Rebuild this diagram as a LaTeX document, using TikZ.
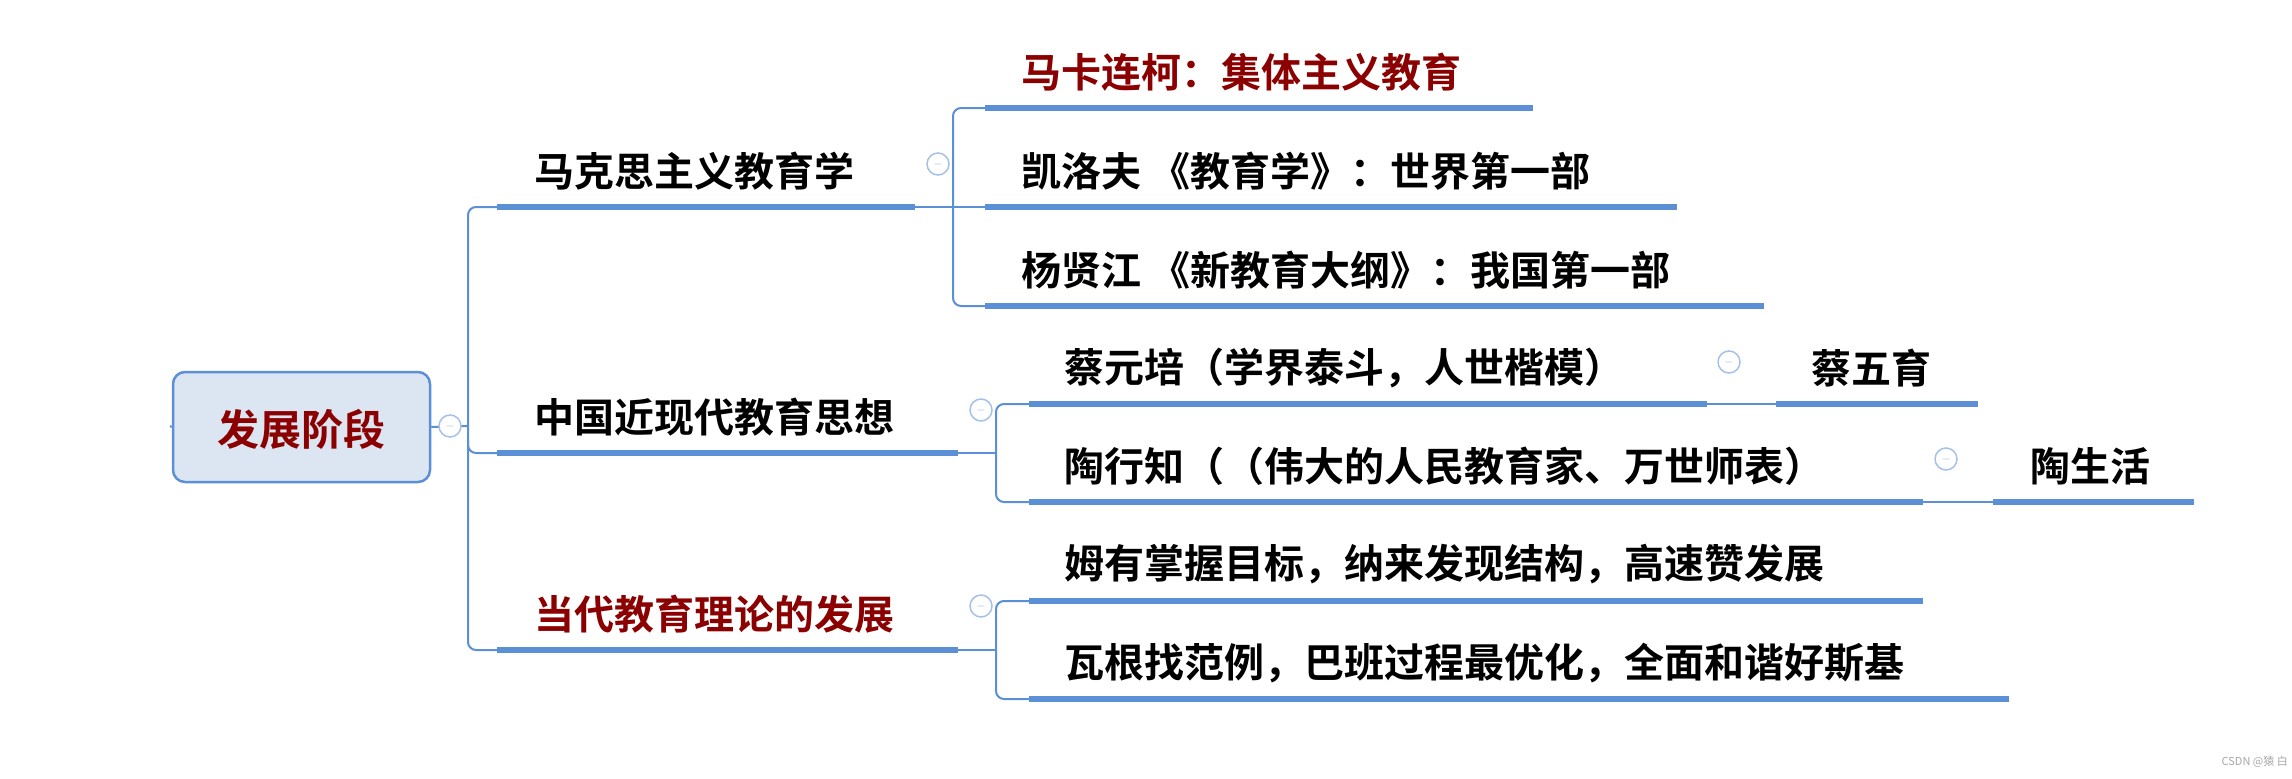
\documentclass[tikz,border=0pt]{standalone}
\usepackage{fontspec}
\setmainfont{Noto Sans CJK SC}[BoldFont={Noto Sans CJK SC Bold}]
\definecolor{lineblue}{HTML}{5B8FD6}
\definecolor{dred}{HTML}{8B0000}
\definecolor{rootfill}{HTML}{DCE6F2}
\begin{document}
\begin{tikzpicture}[x=1pt,y=-1pt,
  lbl/.style={anchor=west,inner sep=0pt,font=\fontsize{40}{40}\selectfont\bfseries},
  ul/.style={draw=lineblue,line width=5.5pt},
  thin/.style={draw=lineblue,line width=2pt,rounded corners=8pt},
  mn/.style={circle,draw=lineblue!55,line width=1.5pt,minimum size=22pt,inner sep=0pt,fill=white,font=\fontsize{13}{13}\selectfont,text=lineblue!70}]
\useasboundingbox (0,0) rectangle (2292,779);
% root
\node[draw=lineblue,line width=2.5pt,fill=rootfill,rounded corners=12pt,minimum width=257pt,minimum height=110pt,inner sep=0pt] (root) at (301.5,427) {};
\node[inner sep=0pt,text=dred,font=\fontsize{42}{42}\selectfont\bfseries] (roott) at (301,429) {发展阶段};
\draw[lineblue,line width=2pt] (170,426) -- (root.west);
% trunk
\coordinate (t) at (468,426);
\draw[thin] (root.east) -- (t);
\draw[thin] (497,207) -- (468,207) -- (468,650) -- (497,650);
\draw[thin] (468,440) -- (468,453) -- (497,453);
\node[mn] (m0) at (450,426) {$-$};
% level 1
\node[lbl] (a) at (534,171) {马克思主义教育学};
\node[lbl] (b) at (534,417) {中国近现代教育思想};
\node[lbl,text=dred] (c) at (534,614) {当代教育理论的发展};
\draw[ul] (497,207) -- (915,207);
\draw[ul] (497,453) -- (958,453);
\draw[ul] (497,650) -- (958,650);
% group 1
\draw[thin] (915,207) -- (985,207);
\draw[thin] (985,108) -- (953,108) -- (953,306) -- (985,306);
\node[mn] (m1) at (938,164) {$-$};
\node[lbl,text=dred] (a1) at (1021,72) {马卡连柯：集体主义教育};
\node[lbl] (a2) at (1021,171) {凯洛夫 《教育学》：世界第一部};
\node[lbl] (a3) at (1021,270) {杨贤江 《新教育大纲》：我国第一部};
\draw[ul] (985,108) -- (1533,108);
\draw[ul] (985,207) -- (1677,207);
\draw[ul] (985,306) -- (1764,306);
% group 2
\draw[thin] (958,453) -- (996,453);
\draw[thin] (1029,404) -- (996,404) -- (996,502) -- (1029,502);
\node[mn] (m2) at (981,410) {$-$};
\node[lbl] (b1) at (1064,368) {蔡元培（学界泰斗，人世楷模）};
\node[lbl] (b2) at (1064,466) {陶行知（（伟大的人民教育家、万世师表）};
\draw[ul] (1029,404) -- (1707,404);
\draw[ul] (1029,502) -- (1923,502);
\draw[thin] (1707,404) -- (1776,404);
\node[mn] (m21) at (1729,362) {$-$};
\draw[ul] (1776,404) -- (1978,404);
\node[lbl] (b11) at (1811,368) {蔡五育};
\draw[thin] (1923,502) -- (1993,502);
\node[mn] (m22) at (1946,459) {$-$};
\draw[ul] (1993,502) -- (2194,502);
\node[lbl] (b21) at (2030,466) {陶生活};
% group 3
\draw[thin] (958,650) -- (996,650);
\draw[thin] (1029,601) -- (996,601) -- (996,699) -- (1029,699);
\node[mn] (m3) at (981,606) {$-$};
\node[lbl] (c1) at (1064,564) {姆有掌握目标，纳来发现结构，高速赞发展};
\node[lbl] (c2) at (1064,663) {瓦根找范例，巴班过程最优化，全面和谐好斯基};
\draw[ul] (1029,601) -- (1923,601);
\draw[ul] (1029,699) -- (2009,699);
% watermark
\node[anchor=east,inner sep=0pt,text=gray!70,font=\fontsize{11}{11}\selectfont] (wm) at (2288,762) {CSDN @猿 白};
\end{tikzpicture}
\end{document}
